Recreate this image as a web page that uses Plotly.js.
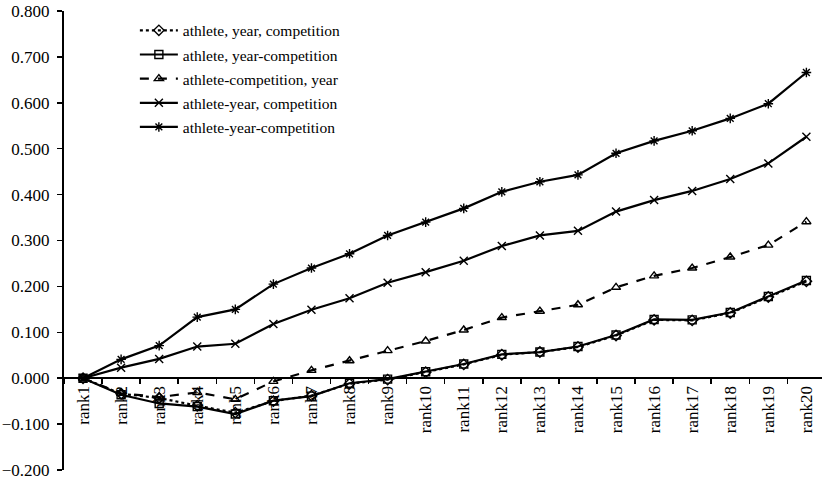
<!DOCTYPE html>
<html>
<head>
<meta charset="utf-8">
<script src="https://cdn.plot.ly/plotly-3.0.1.min.js"></script>
<style>html,body{margin:0;padding:0;background:#fff;}#chart{width:822px;height:482px;}</style>
</head>
<body>
<div id="chart"></div>
<script>
const categories = ["rank1","rank2","rank3","rank4","rank5","rank6","rank7","rank8","rank9","rank10",
  "rank11","rank12","rank13","rank14","rank15","rank16","rank17","rank18","rank19","rank20"];
const seriesNames = ["athlete, year, competition","athlete, year-competition","athlete-competition, year",
  "athlete-year, competition","athlete-year-competition"];
const athlete_year_competition_sep = [0.000,-0.034,-0.043,-0.060,-0.075,-0.050,-0.038,-0.012,-0.003,0.013,
  0.030,0.051,0.057,0.068,0.093,0.127,0.126,0.142,0.177,0.211];
const athlete_yearcompetition = [0.000,-0.036,-0.055,-0.062,-0.078,-0.049,-0.039,-0.011,-0.002,0.014,
  0.031,0.052,0.057,0.069,0.094,0.128,0.127,0.143,0.178,0.213];
const athletecompetition_year = [0.000,-0.033,-0.041,-0.031,-0.046,-0.007,0.017,0.038,0.060,0.081,
  0.105,0.132,0.146,0.160,0.198,0.223,0.240,0.264,0.290,0.341];
const athleteyear_competition = [0.000,0.023,0.042,0.069,0.075,0.118,0.149,0.174,0.208,0.231,
  0.256,0.288,0.311,0.321,0.363,0.388,0.408,0.434,0.468,0.526];
const athleteyearcompetition = [0.000,0.041,0.071,0.133,0.150,0.205,0.240,0.271,0.311,0.340,
  0.370,0.406,0.428,0.443,0.490,0.517,0.539,0.566,0.598,0.666];

const values = [athlete_year_competition_sep, athlete_yearcompetition, athletecompetition_year,
  athleteyear_competition, athleteyearcompetition];
const dashes = ["dot","solid","dash","solid","solid"];
const symbols = ["diamond-open","square-open","triangle-up-open","x-thin-open","asterisk-open"];

const traces = values.map((v, i) => ({
  type: "scatter", mode: "lines+markers", x: categories, y: v, name: seriesNames[i],
  legendgroup: "g" + i,
  line: {color: "#000", width: 2.2, dash: dashes[i]},
  marker: {symbol: symbols[i], size: 8, color: "#000", line: {color: "#000", width: 1.4}}
}));

const layout = {
  width: 822, height: 482,
  margin: {l: 64, r: 0, t: 11, b: 12},
  paper_bgcolor: "#fff", plot_bgcolor: "#fff",
  font: {family: "Liberation Serif", color: "#000", size: 17},
  showlegend: true,
  legend: {x: 0.0935, y: 0.994, xanchor: "left", yanchor: "top", bgcolor: "rgba(0,0,0,0)",
    font: {size: 15.5, family: "Liberation Serif"}, traceorder: "grouped", tracegroupgap: 1,
    itemwidth: 38},
  xaxis: {type: "category", categories: categories, range: [-0.5, 19.41],
    anchor: "free", position: 0.2, tickson: "boundaries", ticks: "outside", ticklen: 5,
    tickwidth: 1.5, tickcolor: "#000", showline: true, linecolor: "#000", linewidth: 2,
    showgrid: false, zeroline: false, tickangle: -90, automargin: false,
    tickfont: {size: 17, family: "Liberation Serif"}},
  yaxis: {range: [-0.2, 0.8], dtick: 0.1, tick0: 0, tickformat: ".3f", ticks: "outside",
    ticklen: 5, tickwidth: 1.5, tickcolor: "#000", showline: true, linecolor: "#000",
    linewidth: 2, showgrid: false, zeroline: false, automargin: false, ticklabelstandoff: 4,
    tickfont: {size: 17, family: "Liberation Serif"}}
};

Plotly.newPlot("chart", traces, layout, {displayModeBar: false, staticPlot: true});
</script>
</body>
</html>
